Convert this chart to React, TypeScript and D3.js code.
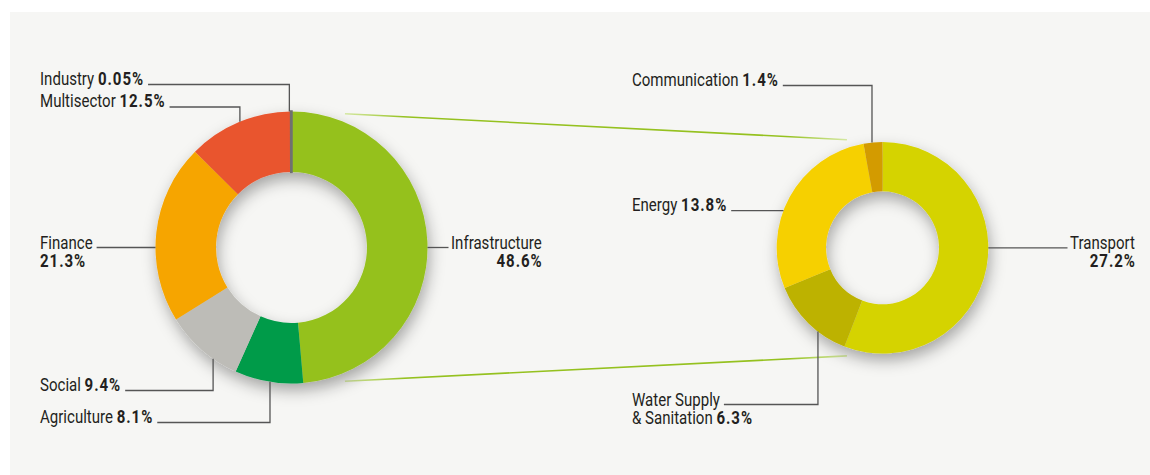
import React, { useEffect, useRef } from "react";
import * as d3 from "d3";

// ---- data ----
const leftCategories = ["Infrastructure", "Agriculture", "Social", "Finance", "Multisector", "Industry"];
const leftValues = [48.6, 8.1, 9.4, 21.3, 12.5, 0.05];
const leftColors = ["#95c11f", "#009b48", "#bdbcb7", "#f6a500", "#e9552f", "#707070"];

const rightCategories = ["Transport", "Water Supply & Sanitation", "Energy", "Communication"];
const rightValues = [27.2, 6.3, 13.8, 1.4];
const rightColors = ["#d5d300", "#bdb200", "#f6d000", "#d39b00"];

// ---- label layout (annotation positions) ----
type Label = {
  kind: "up" | "down" | "left" | "right";
  angle: number; // degrees, clockwise from top
  lines: string[];
  valueOwnLine?: boolean;
  lineY?: number;
  textX: number;
  baseline: number;
};

const leftLabels: Label[] = [
  { kind: "right", angle: 90, lines: ["Infrastructure"], valueOwnLine: true, textX: 451, baseline: 248.5 },
  { kind: "down", angle: 189.1, lines: ["Agriculture"], lineY: 422.5, textX: 40, baseline: 422.5 },
  { kind: "down", angle: 215.2, lines: ["Social"], lineY: 390.5, textX: 40, baseline: 391 },
  { kind: "left", angle: 270, lines: ["Finance"], valueOwnLine: true, textX: 40, baseline: 248.5 },
  { kind: "up", angle: 337.7, lines: ["Multisector"], lineY: 107, textX: 40, baseline: 107 },
  { kind: "up", angle: 359.1, lines: ["Industry"], lineY: 84.5, textX: 40, baseline: 85 },
];

const rightLabels: Label[] = [
  { kind: "right", angle: 90, lines: ["Transport"], valueOwnLine: true, textX: 1070, baseline: 248.5 },
  { kind: "down", angle: 217.6, lines: ["Water Supply", "& Sanitation"], lineY: 404.5, textX: 632, baseline: 405.5 },
  { kind: "left", angle: 290.6, lines: ["Energy"], textX: 632, baseline: 211 },
  { kind: "up", angle: 354.3, lines: ["Communication"], lineY: 85.5, textX: 632, baseline: 86 },
];

const W = 1150;
const H = 475;
const FONT = "Roboto, 'Liberation Sans', sans-serif";
const FS = 17.5;
const SX = 0.86; // horizontal condensing of the label face
const BOLD_LS = 1.1;
const LINE_H = 18.3;
const TEXT_COLOR = "#231f20";
const LEADER = "#555";

type Donut = {
  cx: number; cy: number; R: number; r: number;
  cats: string[]; vals: number[]; colors: string[]; labels: Label[];
};

const leftDonut: Donut = { cx: 291.5, cy: 247.5, R: 136, r: 75.5, cats: leftCategories, vals: leftValues, colors: leftColors, labels: leftLabels };
const rightDonut: Donut = { cx: 882.5, cy: 247.8, R: 105.8, r: 56.5, cats: rightCategories, vals: rightValues, colors: rightColors, labels: rightLabels };

const fmt = (v: number) => `${v}%`;

export default function App() {
  const ref = useRef<SVGSVGElement | null>(null);

  useEffect(() => {
    const svg = d3.select(ref.current!);
    svg.selectAll("*").remove();

    const defs = svg.append("defs");
    const f = defs.append("filter").attr("id", "dshadow")
      .attr("x", "-40%").attr("y", "-40%").attr("width", "180%").attr("height", "190%");
    f.append("feDropShadow").attr("dx", 2).attr("dy", 7).attr("stdDeviation", 7.5)
      .attr("flood-color", "#000").attr("flood-opacity", 0.33);

    const grad = defs.append("linearGradient").attr("id", "connGrad")
      .attr("x1", "0").attr("x2", "1").attr("y1", "0").attr("y2", "0");
    [[0, "#d6e9a4"], [0.12, "#95c11f"], [0.88, "#95c11f"], [1, "#d6e9a4"]].forEach(([o, c]) =>
      grad.append("stop").attr("offset", o as number).attr("stop-color", c as string));

    // panel
    svg.append("rect").attr("x", 10).attr("y", 12).attr("width", W).attr("height", H)
      .attr("fill", "#f6f6f4");

    const polar = (d: Donut, deg: number, rad: number): [number, number] => {
      const a = (deg * Math.PI) / 180;
      return [d.cx + rad * Math.sin(a), d.cy - rad * Math.cos(a)];
    };

    // connector lines from Infrastructure slice to breakdown donut
    const connectors: [number, number][] = [[21.8, -18.2], [158.2, 198.2]];
    connectors.forEach(([aL, aR]) => {
      const p1 = polar(leftDonut, aL, leftDonut.R + 8);
      const p2 = polar(rightDonut, aR, rightDonut.R + 8);
      svg.append("line").attr("x1", p1[0]).attr("y1", p1[1]).attr("x2", p2[0]).attr("y2", p2[1])
        .attr("stroke", "url(#connGrad)").attr("stroke-width", 1.6);
    });

    const drawDonut = (d: Donut) => {
      const data = d.cats.map((c, i) => ({ cat: c, value: d.vals[i], color: d.colors[i], label: d.labels[i] }));
      const pie = d3.pie<any>().sort(null).value((x: any) => x.value).startAngle(0).endAngle(2 * Math.PI);
      const arc = d3.arc<any>().innerRadius(d.r).outerRadius(d.R);
      const arcs = pie(data);

      const g = svg.append("g").attr("transform", `translate(${d.cx},${d.cy})`).attr("filter", "url(#dshadow)");
      g.selectAll("path").data(arcs).enter().append("path")
        .attr("d", arc as any)
        .attr("fill", (a: any) => a.data.color)
        .attr("stroke", (a: any) => (a.data.value < 0.5 ? a.data.color : "none"))
        .attr("stroke-width", (a: any) => (a.data.value < 0.5 ? 2.5 : 0));

      // labels
      data.forEach((item) => {
        const L = item.label;
        const tg = svg.append("g").attr("transform", `translate(${L.textX},${L.baseline}) scale(${SX},1)`);
        const textEls: SVGTextElement[] = [];
        L.lines.forEach((ln, li) => {
          const t = tg.append("text").attr("x", 0).attr("y", li * LINE_H)
            .attr("font-family", FONT).attr("font-size", FS).attr("fill", TEXT_COLOR);
          t.append("tspan").text(ln);
          if (!L.valueOwnLine && li === L.lines.length - 1) {
            t.append("tspan").text(" ");
            t.append("tspan").attr("font-weight", "bold").attr("letter-spacing", BOLD_LS).text(fmt(item.value));
          }
          textEls.push(t.node() as SVGTextElement);
        });
        const firstWRaw = textEls[0].getComputedTextLength();
        if (L.valueOwnLine) {
          const vt = tg.append("text").attr("y", LINE_H)
            .attr("font-family", FONT).attr("font-size", FS).attr("font-weight", "bold")
            .attr("letter-spacing", BOLD_LS).attr("fill", TEXT_COLOR)
            .text(fmt(item.value));
          if (L.kind === "right") vt.attr("x", firstWRaw + BOLD_LS).attr("text-anchor", "end");
          else vt.attr("x", 0);
        }
        const firstW = firstWRaw * SX;

        const p = polar(d, L.angle, d.R);
        let pts: [number, number][] = [];
        const textEnd = L.textX + firstW + 4;
        if (L.kind === "up" || L.kind === "down") {
          pts = [p, [p[0], L.lineY!], [textEnd, L.lineY!]];
        } else if (L.kind === "left") {
          pts = [p, [textEnd, p[1]]];
        } else {
          pts = [p, [L.textX - 2.5, p[1]]];
        }
        svg.append("path").attr("d", d3.line()(pts) as string)
          .attr("fill", "none").attr("stroke", LEADER).attr("stroke-width", 1.3);
      });
    };

    drawDonut(leftDonut);
    drawDonut(rightDonut);
  }, []);

  return (
    <svg ref={ref} width={W} height={H}
      style={{ position: "absolute", left: 0, top: 0, background: "#ffffff" }} />
  );
}
